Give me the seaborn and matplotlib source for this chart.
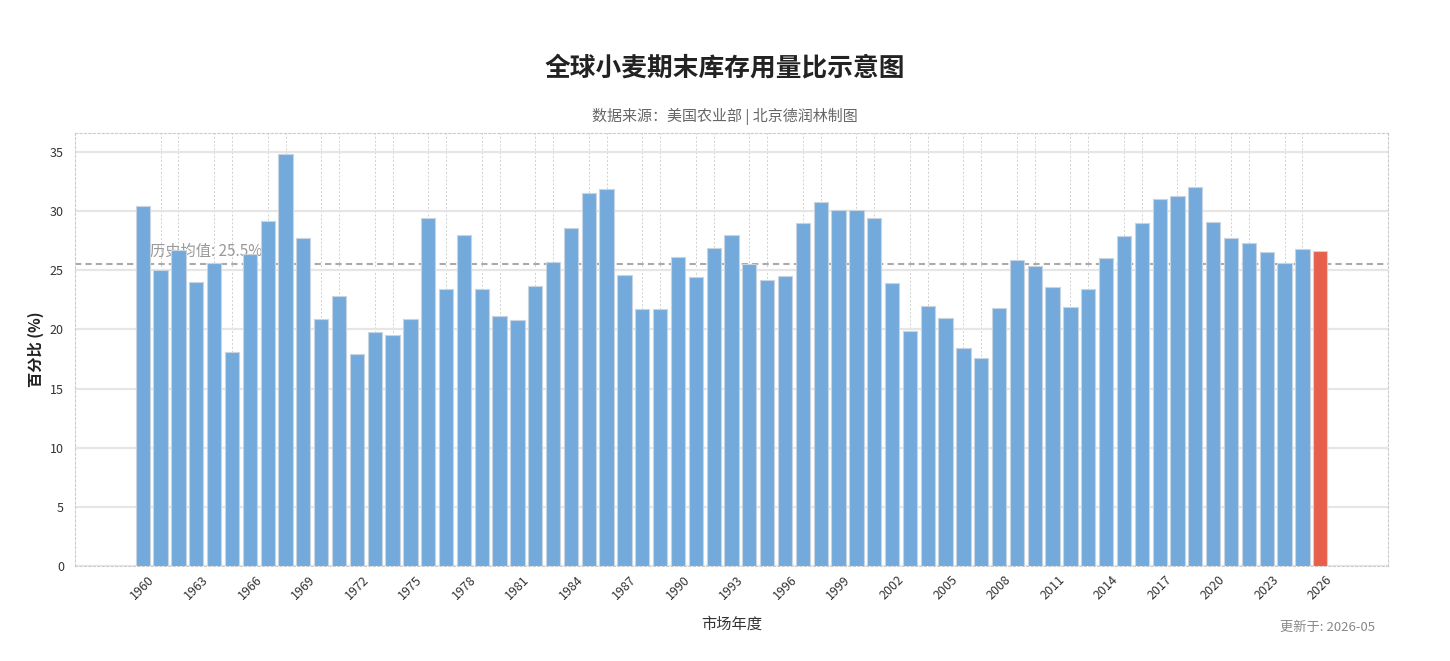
import matplotlib
matplotlib.use("Agg")
import matplotlib.pyplot as plt
import seaborn as sns
import pandas as pd

years = list(range(1960, 2027))
ratios = [30.4, 25.0, 26.7, 24.0, 25.6, 18.1, 26.4, 29.2, 34.8, 27.7,
          20.9, 22.8, 17.9, 19.8, 19.5, 20.9, 29.4, 23.4, 28.0, 23.4,
          21.1, 20.8, 23.7, 25.7, 28.6, 31.5, 31.9, 24.6, 21.7, 21.7,
          26.1, 24.4, 26.9, 28.0, 25.5, 24.2, 24.5, 29.0, 30.8, 30.1,
          30.1, 29.4, 23.9, 19.9, 22.0, 21.0, 18.4, 17.6, 21.8, 25.9,
          25.4, 23.6, 21.9, 23.4, 26.0, 27.9, 29.0, 31.0, 31.3, 32.0,
          29.1, 27.7, 27.3, 26.5, 25.6, 26.8, 26.6]
avg_value = 25.5
tick_years = [str(y) for y in range(1960, 2027, 3)]

title = "全球小麦期末库存用量比示意图"
subtitle = "数据来源：美国农业部 | 北京德润林制图"
ylabel = "百分比 (%)"
xlabel = "市场年度"
avg_label = f"历史均值: {avg_value}%"
update_note = "更新于: 2026-05"

sns.set_theme(style="white")
plt.rcParams['font.family'] = ['Noto Sans CJK SC', 'DejaVu Sans']

df = pd.DataFrame({
    "year": [str(y) for y in years],
    "ratio": ratios,
    "kind": ["hist"] * (len(years) - 1) + ["latest"],
})

fig = plt.figure(figsize=(14.5, 6.61), dpi=100)
ax = fig.add_axes([75 / 1450, 1 - 566 / 661, (1388 - 75) / 1450, (566 - 133) / 661])

ax.axhline(avg_value, color="#aaaaaa", linestyle=(0, (3, 2)), linewidth=1.5, zorder=1)
ax.text(0.4, avg_value + 0.35, avg_label, color="#999999", fontsize=11,
        ha="left", va="bottom", zorder=1)

sns.barplot(data=df, x="year", y="ratio", hue="kind",
            palette={"hist": "#74aadb", "latest": "#e8604c"},
            order=df["year"], width=0.8, legend=False, ax=ax, saturation=1,
            edgecolor="#c8d4e0", linewidth=0.8, zorder=3)

ax.set_xlim(-3.8, len(years) - 1 + 3.8)
ax.set_ylim(0, 36.6)
ax.set_yticks(range(0, 36, 5))
pos_ticks = [years.index(int(t)) for t in tick_years]
ax.set_xticks(pos_ticks)
ax.set_xticklabels(tick_years, rotation=45, fontsize=9, color="#333333")
ax.set_xticks(range(len(years)), minor=True)
ax.tick_params(axis="y", labelsize=9, colors="#333333", length=0, pad=8)
ax.tick_params(axis="x", which="both", length=0, pad=5)

ax.grid(axis="y", which="major", color="#e6e6e6", linewidth=1.6, linestyle="-", zorder=0)
ax.grid(axis="x", which="minor", color="#cfcfcf", linewidth=0.7, linestyle=(0, (2, 2)), zorder=0)
ax.set_axisbelow(True)
for s in ax.spines.values():
    s.set_color("#cccccc")
    s.set_linestyle((0, (2, 2)))
    s.set_linewidth(0.8)

ax.set_xlabel(xlabel, fontsize=11, color="#333333", labelpad=10)
ax.set_ylabel(ylabel, fontsize=11, fontweight="bold", color="#222222", labelpad=4)

fig.text(0.5, 1 - 68 / 661, title, ha="center", va="center", fontsize=18.5,
         fontweight="bold", color="#222222")
fig.text(0.5, 1 - 116 / 661, subtitle, ha="center", va="center", fontsize=10.8,
         color="#666666")
fig.text(1375 / 1450, 1 - 627 / 661, update_note, ha="right", va="center",
         fontsize=9.5, color="#888888")

fig.savefig("out.png", dpi=100)
